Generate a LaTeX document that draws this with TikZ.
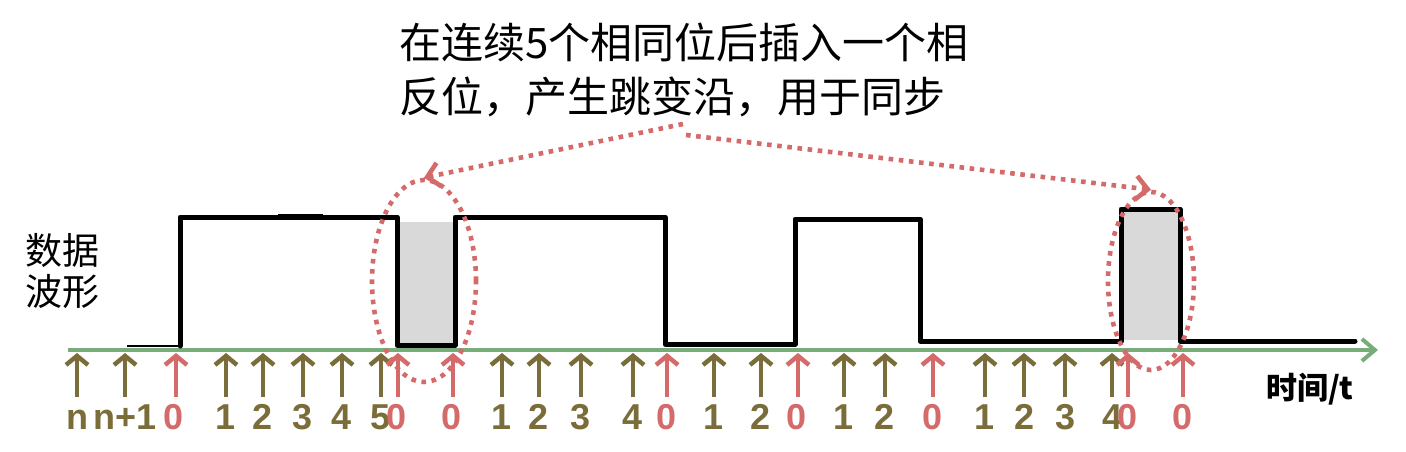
\documentclass[tikz,border=0pt]{standalone}
\usepackage{fontspec}
\setmainfont{Liberation Sans}
\newfontfamily\cjk{Noto Sans CJK SC}
\usetikzlibrary{arrows.meta,shapes.geometric}
\definecolor{axisgreen}{HTML}{78AC78}
\definecolor{olivec}{HTML}{7A6D39}
\definecolor{redc}{HTML}{D46A6A}
\definecolor{greyfill}{HTML}{D9D9D9}
\tikzset{
  wave/.style={line width=5pt, line join=round, line cap=round, black},
  dotred/.style={draw=redc, line width=4.6pt, dash pattern=on 4.6pt off 5.6pt},
  tickarr/.style={line width=4.5pt, -{Straight Barb[length=9pt,width=22pt]}},
  olivetick/.style={tickarr, draw=olivec},
  redtick/.style={tickarr, draw=redc},
  lab/.style={font=\bfseries\fontsize{36}{40}\selectfont, anchor=base, inner sep=0pt},
  ovalmark/.style={ellipse, dotred, inner sep=0pt},
  cjktext/.style={font=\cjk\fontsize{42}{50}\selectfont, inner sep=0pt},
  notearr/.style={dotred, -{Straight Barb[length=12pt,width=24pt,line width=4.6pt]}}
}
\begin{document}
\begin{tikzpicture}[x=1pt,y=-1pt]
\useasboundingbox (0,0) rectangle (1406,452);
% time axis
\coordinate (axs) at (68,350);
\coordinate (axe) at (1378,350);
\draw[axisgreen, line width=4pt, -{Straight Barb[length=13pt,width=22pt]}] (axs) -- (axe);
% grey fills
\fill[greyfill] (398,222) rectangle (453,345);
\fill[greyfill] (1124,212) rectangle (1178,340);
% waveform
\draw[black, line width=2.5pt] (127,346) -- (180,346);
\draw[wave] (180,346) -- (180,217) -- (397,217) -- (397,345) -- (455,345) -- (455,217)
  -- (665,217) -- (665,344) -- (795,344) -- (795,219) -- (920,219) -- (920,341)
  -- (1121,341) -- (1121,209) -- (1180,209) -- (1180,341) -- (1355,341);
\draw[black, line width=3pt] (278,215) -- (323,215);
% ticks
\foreach \x/\t [count=\i] in {77/n,125/n+1,226/1,263/2,303/3,342/4,381/5,502/1,539/2,581/3,633/4,714/1,761/2,844/1,885/2,985/1,1024/2,1065/3,1112/4}{
  \coordinate (ob\i) at (\x,397);
  \coordinate (ot\i) at (\x,353);
  \draw[olivetick] (ob\i) -- (ot\i);
  \node[lab, text=olivec] (ol\i) at (\x,429) {\t};
}
\foreach \x/\lx [count=\i] in {176/174,398/397,453/452,667/667,798/797,933/933,1128/1127,1183/1182}{
  \coordinate (rb\i) at (\x,397);
  \coordinate (rt\i) at (\x,353);
  \draw[redtick] (rb\i) -- (rt\i);
  \node[lab, text=redc] (rl\i) at (\lx,429) {0};
}
% ovals
\node[ovalmark, minimum width=104pt, minimum height=202pt] (e1) at (424,281) {};
\node[ovalmark, minimum width=86pt, minimum height=178pt] (e2) at (1151,281) {};
% note text
\node[cjktext, anchor=west] (note1) at (399,42) {在连续5个相同位后插入一个相};
\node[cjktext, anchor=west] (note2) at (399,97) {反位，产生跳变沿，用于同步};
\coordinate (ap1) at (683,124);
\coordinate (ap2) at (686,135);
\draw[notearr] (ap1) -- (e1.north);
\draw[notearr] (ap2) -- (e2.north);
% side labels
\node[font=\cjk\fontsize{37}{42}\selectfont, inner sep=0pt] (lab1) at (62,250) {数据};
\node[font=\cjk\fontsize{37}{42}\selectfont, inner sep=0pt] (lab2) at (62,292) {波形};
\node[font=\cjk\bfseries\fontsize{31}{36}\selectfont, inner sep=0pt] (tlab) at (1310,389) {时间/t};
\end{tikzpicture}
\end{document}
